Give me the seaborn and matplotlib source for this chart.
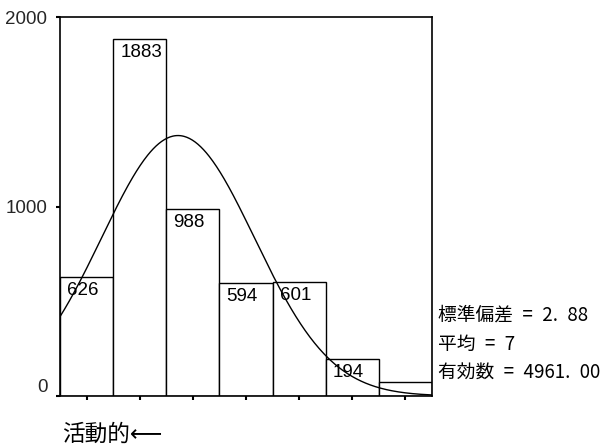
import numpy as np
import pandas as pd
import matplotlib
matplotlib.use("Agg")
import matplotlib.pyplot as plt
import seaborn as sns

# ---- data ----
counts = [626, 1883, 988, 594, 601, 194, 75]
bar_labels = ["626", "1883", "988", "594", "601", "194", ""]
bin_start = 2.56
bin_width = 2.0
mean_val = 7.0
sd_val = 2.88
n_valid = 4961
y_ticks = [0, 1000, 2000]
y_tick_labels = ["0", "1000", "2000"]
stats_lines = ["標準偏差\u2002=\u20022.\u200288", "平均\u2002=\u20027", "有効数\u2002=\u20024961.\u200200"]
x_label = "活動的⟵"

sns.set_theme(style="white")
plt.rcParams["font.family"] = ["Liberation Sans", "DejaVu Sans"]

edges = [bin_start + bin_width * i for i in range(len(counts) + 1)]
centers = [(a + b) / 2 for a, b in zip(edges[:-1], edges[1:])]
df = pd.DataFrame({"x": centers, "w": counts})

fig = plt.figure(figsize=(6.08, 4.46), dpi=100)
ax = fig.add_axes([60 / 608, 1 - 396 / 446, 372 / 608, 379 / 446])

sns.histplot(data=df, x="x", weights="w", bins=edges, ax=ax,
             color="white", edgecolor="black", linewidth=1.0, alpha=1.0)

# fitted normal curve from stated statistics
xs = np.linspace(edges[0], edges[-1], 400)
ys = n_valid * bin_width / (sd_val * np.sqrt(2 * np.pi)) * np.exp(-0.5 * ((xs - mean_val) / sd_val) ** 2)
sns.lineplot(x=xs, y=ys, ax=ax, color="black", linewidth=1.0)

for left, c, lab in zip(edges[:-1], counts, bar_labels):
    if lab:
        ax.annotate(lab, xy=(left, c), xytext=(7, -5), textcoords="offset pixels",
                    ha="left", va="top", fontsize=13.5, color="black")

ax.set_xlim(edges[0], edges[-1])
ax.set_ylim(0, 2000)
ax.set_xticks(centers)
ax.set_xticklabels([])
ax.set_yticks(y_ticks)
ax.set_yticklabels(y_tick_labels, fontsize=13.5)
lbls = ax.get_yticklabels()
lbls[0].set_va("bottom")
ax.tick_params(axis="both", which="major", length=3, width=1.5, color="black",
               direction="out", bottom=True, left=True, pad=6)
ax.set_xlabel("")
ax.set_ylabel("")
for s in ax.spines.values():
    s.set_color("black")
    s.set_linewidth(1.2)
    s.set_visible(True)
ax.grid(False)

cjk = ["Noto Sans CJK JP", "DejaVu Sans"]
ys_px = [315, 344, 373]
for txt, yp in zip(stats_lines, ys_px):
    fig.text(438 / 608, 1 - yp / 446, txt, ha="left", va="center",
             fontsize=13.5, family=cjk, color="black")

fig.text(62 / 608, 1 - 434 / 446, x_label, ha="left", va="center",
         fontsize=16.3, family=cjk, color="black")

fig.savefig("out.png", dpi=100, facecolor="white")
